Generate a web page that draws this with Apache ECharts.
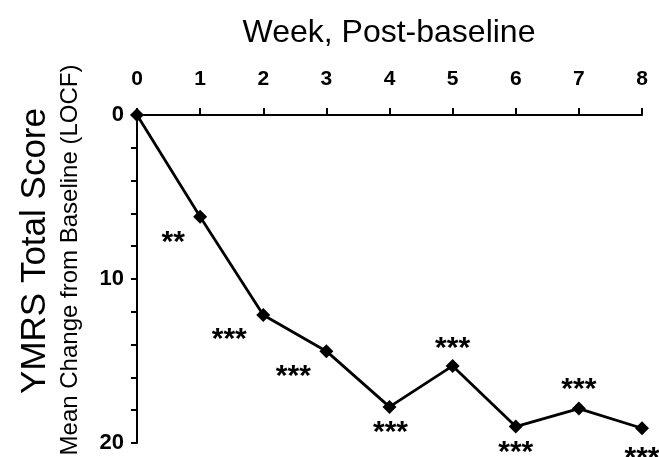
<!DOCTYPE html>
<html>
<head>
<meta charset="utf-8">
<script src="https://cdn.jsdelivr.net/npm/echarts@6/dist/echarts.min.js"></script>
<style>
html,body{margin:0;padding:0;background:#fff;}
#chart{width:659px;height:457px;}
</style>
</head>
<body>
<div id="chart"></div>
<script>
// Data
const weeks = [0, 1, 2, 3, 4, 5, 6, 7, 8];
const meanChange = [0, 6.2, 12.2, 14.4, 17.8, 15.3, 19.0, 17.9, 19.1];
const significance = ['', '**', '***', '***', '***', '***', '***', '***', '***'];
const xTickLabels = ['0', '1', '2', '3', '4', '5', '6', '7', '8'];
const yTickLabels = [0, 10, 20];

// Label placement (pixel offsets from each point) — styling only
const labelOffsets = [[0,0],[-27,26],[-34,25],[-33,26],[1,26],[0,-17],[0,26],[0,-19],[0,30]];

const FONT = '"Liberation Sans", Arial, sans-serif';
const chart = echarts.init(document.getElementById('chart'));

const seriesData = weeks.map((w, i) => ({
  value: [w, meanChange[i]],
  label: {
    show: significance[i] !== '',
    formatter: significance[i],
    position: 'inside',
    align: 'center',
    verticalAlign: 'middle',
    offset: labelOffsets[i]
  }
}));

chart.setOption({
  backgroundColor: '#fff',
  animation: false,
  grid: { left: 137, right: 17, top: 115, bottom: 14, containLabel: false },
  title: {
    text: 'Week, Post-baseline',
    left: 384, top: 12, textAlign: 'center',
    textStyle: { fontFamily: FONT, fontSize: 32, fontWeight: 'normal', color: '#000' }
  },
  graphic: [
    { type: 'text', x: 35, y: 251, rotation: Math.PI/2,
      style: { text: 'YMRS Total Score', font: '35px ' + FONT, fill: '#000', align: 'center', verticalAlign: 'middle' } },
    { type: 'text', x: 70, y: 260, rotation: Math.PI/2,
      style: { text: 'Mean Change from Baseline (LOCF)', font: '24px ' + FONT, fill: '#000', align: 'center', verticalAlign: 'middle' } }
  ],
  xAxis: {
    type: 'value', position: 'top', min: 0, max: 8, interval: 1,
    axisLine: { show: true, onZero: false, lineStyle: { color: '#000', width: 2 } },
    axisTick: { show: true, inside: false, length: 7, lineStyle: { color: '#000', width: 2 } },
    axisLabel: { fontFamily: FONT, fontSize: 21, fontWeight: 'bold', color: '#000', margin: 25,
      formatter: v => xTickLabels[v] },
    splitLine: { show: false }
  },
  yAxis: {
    type: 'value', inverse: true, min: 0, max: 20, interval: 2,
    axisLine: { show: true, onZero: false, lineStyle: { color: '#000', width: 2 } },
    axisTick: { show: true, inside: false, length: 6, lineStyle: { color: '#000', width: 2 } },
    axisLabel: { fontFamily: FONT, fontSize: 22, fontWeight: 'bold', color: '#000', margin: 13,
      formatter: v => yTickLabels.includes(v) ? String(v) : '' },
    splitLine: { show: false }
  },
  series: [{
    type: 'line',
    data: seriesData,
    symbol: 'diamond',
    symbolSize: 14,
    itemStyle: { color: '#000' },
    lineStyle: { color: '#000', width: 2.8 },
    label: { fontFamily: FONT, fontSize: 30, fontWeight: 'bold', color: '#000' },
    z: 3
  }]
});
</script>
</body>
</html>
